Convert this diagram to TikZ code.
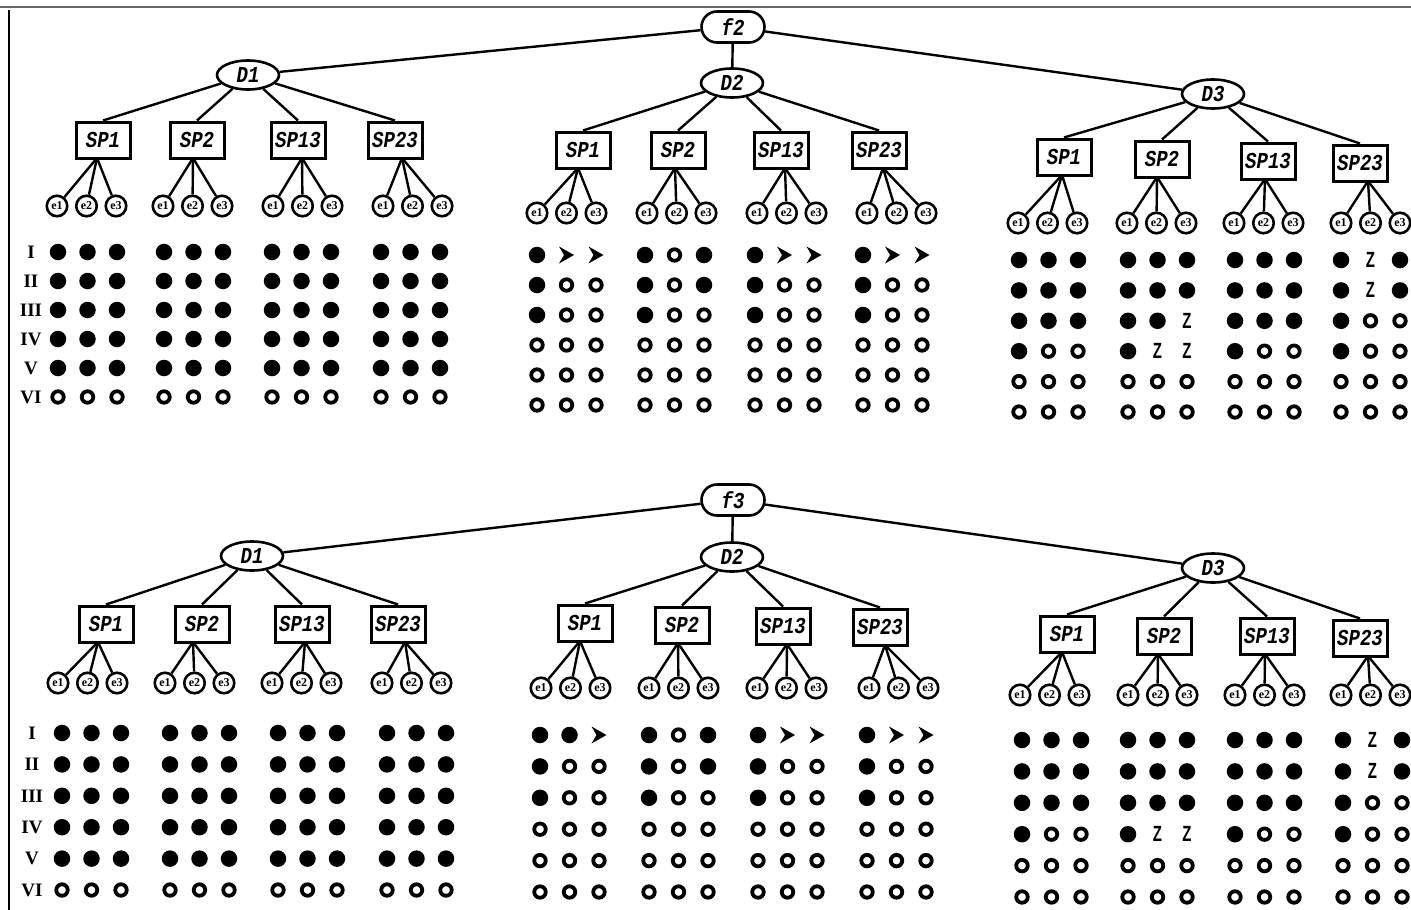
\documentclass[tikz,border=0pt]{standalone}
\usepackage{fontspec}
\usepackage{graphicx}
\setmainfont{Liberation Serif}
\newfontfamily\monofam{Liberation Mono}
\newfontfamily\sansfam{Liberation Sans}
\usetikzlibrary{shapes.geometric,shapes.misc}
\newcommand\tall[1]{\scalebox{1}[1.2]{#1}}
\tikzset{
  edge/.style={line width=2.4pt},
  lab/.style={font=\monofam\bfseries\itshape\fontsize{19}{19}\selectfont},
  fnode/.style={lab, draw, rounded rectangle, line width=2.6pt, minimum width=63pt, minimum height=31pt, inner sep=0pt},
  dnode/.style={lab, draw, ellipse, line width=2.6pt, minimum width=62pt, minimum height=29pt, inner sep=0pt},
  spnode/.style={lab, draw, rectangle, line width=3pt, minimum width=54pt, minimum height=36pt, inner sep=0pt},
  enode/.style={draw, circle, line width=2.6pt, minimum size=20.5pt, inner sep=0pt, font=\bfseries\fontsize{12}{12}\selectfont},
  fulldot/.style={circle, fill, minimum size=16.5pt, inner sep=0pt},
  opendot/.style={circle, draw, line width=3.8pt, minimum size=11.5pt, inner sep=0pt},
  arrowslot/.style={inner sep=0pt, minimum size=15pt},
  zmark/.style={inner sep=0pt, font=\sansfam\bfseries\fontsize{22}{22}\selectfont},
  rowlab/.style={inner sep=0pt, font=\bfseries\fontsize{19}{19}\selectfont},
}
\def\colstep{29.5}
\def\allF{F,F,F,F,F,F,F,F,F,F,F,F,F,F,F,O,O,O}
% #1 prefix, #2 parent, #3 label, #4 box x, #5 box y, #6 junction x, #7 e1 x, #8 dot x0, #9 data
\newcommand\spgroup[9]{%
  \node[spnode] (#1) at (#4,#5) {\tall{#3}};
  \draw[edge] (#2) -- (#1.north);
  \coordinate (#1j) at (#6,#5+18);
  \foreach \k in {1,2,3}{%
    \node[enode] (#1e\k) at ({#7+(\k-1)*\colstep},\ey) {e\k};
    \draw[edge] (#1j) -- (#1e\k);
  }
  \edef\datalist{#9}%
  \foreach \s [count=\i from 0] in \datalist {%
    \pgfmathtruncatemacro\rr{div(\i,3)}%
    \pgfmathtruncatemacro\cc{mod(\i,3)}%
    \pgfmathsetmacro\xx{#8+\cc*\colstep}%
    \pgfmathsetmacro\yy{\rowya+\rr*\rowstep}%
    \if\s F\node[fulldot] (#1d\rr\cc) at (\xx,\yy) {};\fi
    \if\s O\node[opendot] (#1d\rr\cc) at (\xx,\yy) {};\fi
    \if\s Z\node[zmark] (#1d\rr\cc) at (\xx,\yy) {\scalebox{0.68}[1]{Z}};\fi
    \if\s A\node[arrowslot] (#1d\rr\cc) at (\xx,\yy) {};
      \fill (#1d\rr\cc.center) ++(7.5,0) -- ++(-15,-8.5) -- ++(5,8.5) -- ++(-5,8.5) -- cycle;\fi
  }
}
\begin{document}
\begin{tikzpicture}[x=1pt,y=-1pt]
\clip (0,0) rectangle (1411,910);
\fill[white] (0,0) rectangle (1411,910);
\coordinate (fl1) at (0,7);
\coordinate (fl2) at (1411,7);
\coordinate (fv1) at (9,10);
\coordinate (fv2) at (9,910);
\draw[line width=1.6pt, black!60] (fl1) -- (fl2);
\draw[line width=1.6pt] (fv1) -- (fv2);

% ================= upper tree =================
\node[fnode] (f2) at (733,27) {\tall{f2}};
\node[dnode] (tD1) at (248,75) {\tall{D1}};
\node[dnode] (tD2) at (732,83) {\tall{D2}};
\node[dnode] (tD3) at (1213,94) {\tall{D3}};
\draw[edge] (f2) -- (tD1);
\draw[edge] (f2) -- (tD2);
\draw[edge] (f2) -- (tD3);

\foreach \t [count=\n from 0] in {I,II,III,IV,V,VI}
  \node[rowlab] (tr\n) at (31,252+\n*29) {\t};

\def\ey{206}\def\rowya{252}\def\rowstep{29}
\spgroup{tAa}{tD1}{SP1}{103}{140}{97}{57}{58}{\allF}
\spgroup{tAb}{tD1}{SP2}{197}{140}{193}{163}{164}{\allF}
\spgroup{tAc}{tD1}{SP13}{298}{140}{302}{273}{272}{\allF}
\spgroup{tAd}{tD1}{SP23}{395}{140}{402}{383}{381}{\allF}

\def\ey{213}\def\rowya{255}\def\rowstep{30}
\spgroup{tBa}{tD2}{SP1}{583}{150}{578}{537}{537}{F,A,A,F,O,O,F,O,O,O,O,O,O,O,O,O,O,O}
\spgroup{tBb}{tD2}{SP2}{678}{150}{675}{647}{645}{F,O,F,F,O,F,F,O,O,O,O,O,O,O,O,O,O,O}
\spgroup{tBc}{tD2}{SP13}{781}{150}{785}{757}{755}{F,A,A,F,O,O,F,O,O,O,O,O,O,O,O,O,O,O}
\spgroup{tBd}{tD2}{SP23}{879}{150}{883}{867}{863}{F,A,A,F,O,O,F,O,O,O,O,O,O,O,O,O,O,O}

\def\ey{223}\def\rowya{260}\def\rowstep{30.4}
\spgroup{tCa}{tD3}{SP1}{1064}{157}{1062}{1018}{1019}{F,F,F,F,F,F,F,F,F,F,O,O,O,O,O,O,O,O}
\spgroup{tCb}{tD3}{SP2}{1162}{159}{1157}{1127}{1128}{F,F,F,F,F,F,F,F,Z,F,Z,Z,O,O,O,O,O,O}
\spgroup{tCc}{tD3}{SP13}{1268}{161}{1265}{1234}{1235}{F,F,F,F,F,F,F,F,F,F,O,O,O,O,O,O,O,O}
\spgroup{tCd}{tD3}{SP23}{1360}{163}{1368}{1341}{1341}{F,Z,F,F,Z,F,F,O,O,F,O,O,O,O,O,O,O,O}

% ================= lower tree =================
\node[fnode] (f3) at (733,500) {\tall{f3}};
\node[dnode] (bD1) at (252,556) {\tall{D1}};
\node[dnode] (bD2) at (732,557) {\tall{D2}};
\node[dnode] (bD3) at (1213,568) {\tall{D3}};
\draw[edge] (f3) -- (bD1);
\draw[edge] (f3) -- (bD2);
\draw[edge] (f3) -- (bD3);

\foreach \t [count=\n from 0] in {I,II,III,IV,V,VI}
  \node[rowlab] (br\n) at (32,733+\n*31.4) {\t};

\def\ey{683}\def\rowya{733}\def\rowstep{31.4}
\spgroup{bAa}{bD1}{SP1}{106}{624}{98}{58}{62}{\allF}
\spgroup{bAb}{bD1}{SP2}{202}{624}{193}{165}{170}{\allF}
\spgroup{bAc}{bD1}{SP13}{302}{624}{305}{272}{278}{\allF}
\spgroup{bAd}{bD1}{SP23}{398}{624}{405}{382}{387}{\allF}

\def\ey{688}\def\rowya{735}\def\rowstep{31.4}
\spgroup{bBa}{bD2}{SP1}{585}{623}{580}{541}{540}{F,F,A,F,O,O,F,O,O,O,O,O,O,O,O,O,O,O}
\spgroup{bBb}{bD2}{SP2}{682}{625}{678}{649}{649}{F,O,F,F,O,F,F,O,O,O,O,O,O,O,O,O,O,O}
\spgroup{bBc}{bD2}{SP13}{783}{626}{787}{757}{758}{F,A,A,F,O,O,F,O,O,O,O,O,O,O,O,O,O,O}
\spgroup{bBd}{bD2}{SP23}{880}{627}{885}{869}{867}{F,A,A,F,O,O,F,O,O,O,O,O,O,O,O,O,O,O}

\def\ey{695}\def\rowya{740}\def\rowstep{31.4}
\spgroup{bCa}{bD3}{SP1}{1067}{634}{1062}{1020}{1022}{F,F,F,F,F,F,F,F,F,F,O,O,O,O,O,O,O,O}
\spgroup{bCb}{bD3}{SP2}{1164}{636}{1158}{1128}{1128}{F,F,F,F,F,F,F,F,F,F,Z,Z,O,O,O,O,O,O}
\spgroup{bCc}{bD3}{SP13}{1267}{636}{1265}{1235}{1235}{F,F,F,F,F,F,F,F,F,F,O,O,O,O,O,O,O,O}
\spgroup{bCd}{bD3}{SP23}{1360}{638}{1368}{1341}{1343}{F,Z,F,F,Z,F,F,O,O,F,O,O,O,O,O,O,O,O}
\end{tikzpicture}
\end{document}
